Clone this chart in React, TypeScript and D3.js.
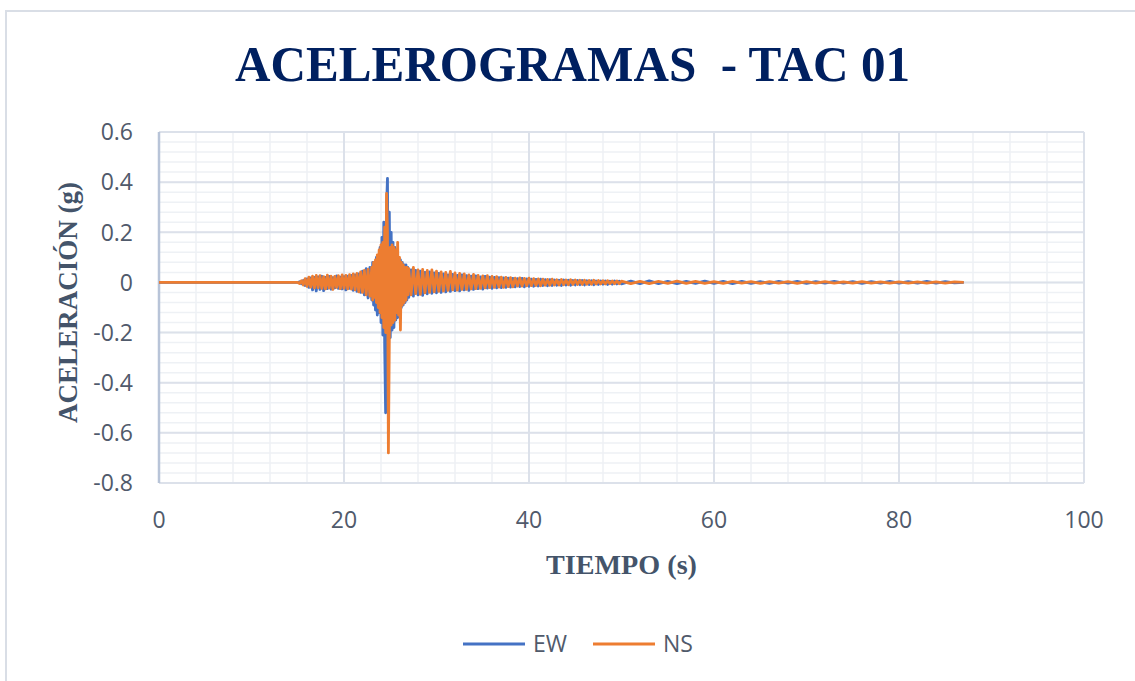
import React from "react";
import * as d3 from "d3";

// ---------- data ----------
const TITLE = "ACELEROGRAMAS  - TAC 01";
const X_TITLE = "TIEMPO (s)";
const Y_TITLE = "ACELERACIÓN (g)";
const SERIES_NAMES = ["EW", "NS"];
const X_TICKS = [0, 20, 40, 60, 80, 100];
const Y_TICKS = [0.6, 0.4, 0.2, 0, -0.2, -0.4, -0.6, -0.8];
const Y_TICK_LABELS = ["0.6", "0.4", "0.2", "0", "-0.2", "-0.4", "-0.6", "-0.8"];

// quiet pre-event record
const PRE_TIMES = [0];
const PRE_VALUES = [0];

// segment A: 15.0 s .. 22.8 s every 0.2 s
const A_START = 15.0;
const A_STEP = 0.2;
const EW_A = [
  0.0, 0.003, -0.005, 0.008, -0.012, 0.014, -0.02, 0.018, -0.03, 0.02,
  -0.034, 0.022, -0.028, 0.025, -0.033, 0.02, -0.025, 0.024, -0.027, 0.019,
  -0.022, 0.026, -0.024, 0.021, -0.026, 0.023, -0.03, 0.025, -0.024, 0.028,
  -0.032, 0.03, -0.036, 0.034, -0.04, 0.045, -0.05, 0.055, -0.062, 0.06,
];
const NS_A = [
  0.0, -0.004, 0.007, -0.01, 0.015, -0.016, 0.021, -0.019, 0.025, -0.022,
  0.028, -0.021, 0.027, -0.024, 0.023, -0.026, 0.029, -0.022, 0.025, -0.028,
  0.024, -0.02, 0.027, -0.025, 0.03, -0.023, 0.028, -0.026, 0.031, -0.027,
  0.034, -0.03, 0.036, -0.038, 0.042, -0.04, 0.048, -0.05, 0.052, -0.055,
];

// segment B: 23.0 s .. 26.9 s every 0.1 s (strong motion)
const B_START = 23.0;
const B_STEP = 0.1;
const EW_B = [
  -0.07, 0.08, -0.09, 0.07, -0.11, 0.1, -0.13, 0.09, -0.12, 0.14,
  -0.16, 0.18, -0.21, 0.24, -0.26, -0.52, 0.3, 0.415, -0.3, 0.28,
  -0.22, 0.2, -0.19, 0.16, -0.18, 0.14, -0.15, 0.12, -0.14, 0.1,
  -0.11, 0.09, -0.1, 0.08, -0.09, 0.07, -0.08, 0.07, -0.07, 0.06,
];
const NS_B = [
  0.06, -0.07, 0.08, -0.06, 0.09, -0.08, 0.11, -0.1, 0.13, -0.12,
  0.15, -0.14, 0.16, -0.18, 0.22, -0.2, 0.355, 0.2, -0.68, -0.22,
  0.14, -0.17, 0.15, -0.16, 0.14, -0.15, 0.13, -0.12, 0.16, -0.13,
  0.1, -0.19, 0.08, -0.09, 0.07, -0.08, 0.06, -0.07, 0.06, -0.05,
];

// segment C: 27.0 s .. 49.75 s every 0.25 s (coda)
const C_START = 27.0;
const C_STEP = 0.25;
const EW_C = [
  -0.06, 0.05, -0.055, 0.048, -0.05, 0.045, -0.052, 0.04, -0.046, 0.042, -0.044, 0.038,
  -0.042, 0.036, -0.04, 0.034, -0.038, 0.03, -0.036, 0.032, -0.033, 0.028, -0.034, 0.03,
  -0.03, 0.027, -0.032, 0.025, -0.028, 0.026, -0.025, 0.022, -0.027, 0.024, -0.023, 0.021,
  -0.024, 0.02, -0.022, 0.019, -0.021, 0.018, -0.02, 0.017, -0.019, 0.016, -0.018, 0.015,
  -0.017, 0.016, -0.018, 0.014, -0.016, 0.013, -0.015, 0.012, -0.014, 0.013, -0.012, 0.011,
  -0.013, 0.011, -0.012, 0.01, -0.011, 0.009, -0.012, 0.01, -0.01, 0.009, -0.011, 0.008,
  -0.01, 0.008, -0.009, 0.008, -0.01, 0.007, -0.008, 0.007, -0.009, 0.006, -0.008, 0.006,
  -0.007, 0.006, -0.008, 0.005, -0.007, 0.006, -0.006, 0.005,
];
const NS_C = [
  0.055, -0.05, 0.06, -0.045, 0.05, -0.048, 0.052, -0.042, 0.048, -0.04, 0.05, -0.038,
  0.045, -0.036, 0.042, -0.035, 0.04, -0.032, 0.044, -0.03, 0.038, -0.031, 0.036, -0.028,
  0.034, -0.028, 0.03, -0.026, 0.032, -0.025, 0.028, -0.024, 0.026, -0.022, 0.027, -0.021,
  0.024, -0.02, 0.023, -0.019, 0.021, -0.02, 0.02, -0.017, 0.019, -0.018, 0.017, -0.015,
  0.018, -0.015, 0.016, -0.014, 0.017, -0.013, 0.015, -0.012, 0.014, -0.013, 0.013, -0.011,
  0.012, -0.011, 0.013, -0.01, 0.011, -0.01, 0.012, -0.009, 0.01, -0.009, 0.011, -0.008,
  0.01, -0.008, 0.009, -0.008, 0.009, -0.007, 0.008, -0.007, 0.009, -0.006, 0.008, -0.006,
  0.007, -0.006, 0.007, -0.005, 0.006, -0.005, 0.006, -0.005,
];

// segment D: 50 s .. 87 s every 1 s (tail)
const D_START = 50.0;
const D_STEP = 1.0;
const EW_D = [
  -0.006, 0.005, -0.005, 0.006, -0.005, 0.004, -0.005, 0.004, -0.004, 0.005,
  -0.004, 0.004, -0.005, 0.004, -0.004, 0.003, -0.004, 0.004, -0.003, 0.004,
  -0.004, 0.003, -0.003, 0.004, -0.003, 0.003, -0.004, 0.003, -0.003, 0.004,
  -0.003, 0.003, -0.003, 0.004, -0.003, 0.003, -0.002, 0.0,
];
const NS_D = [
  0.005, -0.005, 0.004, -0.005, 0.004, -0.004, 0.005, -0.004, 0.004, -0.004,
  0.003, -0.004, 0.004, -0.003, 0.003, -0.004, 0.003, -0.003, 0.003, -0.004,
  0.003, -0.003, 0.003, -0.003, 0.002, -0.003, 0.003, -0.003, 0.002, -0.003,
  0.002, -0.003, 0.002, -0.003, 0.002, -0.003, 0.002, 0.0,
];

// ---------- layout ----------
const W = 1135;
const H = 681;
const M = { left: 159, right: 1084, top: 132, bottom: 483 };
const COLORS: Record<string, string> = { EW: "#4472C4", NS: "#ED7D31" };
const TICK_COLOR = "#505A6B";
const AXIS_TITLE_COLOR = "#44546A";
const TITLE_COLOR = "#002060";
const SANS = "'Open Sans', 'Liberation Sans', sans-serif";
const SERIF = "'Liberation Serif', 'DejaVu Serif', serif";

type Pt = [number, number];

function buildSeries(segs: { start: number; step: number; vals: number[] }[], pre: Pt[]): Pt[] {
  const out: Pt[] = [...pre];
  segs.forEach((s) => {
    s.vals.forEach((v, i) => out.push([s.start + i * s.step, v]));
  });
  return out;
}

const PRE: Pt[] = PRE_TIMES.map((t, i) => [t, PRE_VALUES[i]]);
const EW: Pt[] = buildSeries(
  [
    { start: A_START, step: A_STEP, vals: EW_A },
    { start: B_START, step: B_STEP, vals: EW_B },
    { start: C_START, step: C_STEP, vals: EW_C },
    { start: D_START, step: D_STEP, vals: EW_D },
  ],
  PRE
);
const NS: Pt[] = buildSeries(
  [
    { start: A_START, step: A_STEP, vals: NS_A },
    { start: B_START, step: B_STEP, vals: NS_B },
    { start: C_START, step: C_STEP, vals: NS_C },
    { start: D_START, step: D_STEP, vals: NS_D },
  ],
  PRE
);

export default function App() {
  const x = d3.scaleLinear().domain([0, 100]).range([M.left, M.right]);
  const y = d3.scaleLinear().domain([-0.8, 0.6]).range([M.bottom, M.top]);
  const line = d3
    .line<Pt>()
    .x((d) => x(d[0]))
    .y((d) => y(d[1]));

  const xMinor = d3.range(0, 100.001, 4);
  const yMinor = d3.range(-0.8, 0.6001, 0.04);

  return (
    <svg
      width={W}
      height={H}
      style={{ position: "absolute", left: 0, top: 0, background: "#fff" }}
    >
      <rect x={0} y={0} width={W} height={H} fill="#fff" />
      <rect x={6} y={11} width={W + 20} height={H + 20} fill="none" stroke="#D9DEE6" strokeWidth={2} />

      <text
        x={(235 + 910) / 2}
        y={81}
        textAnchor="middle"
        fontFamily={SERIF}
        fontWeight="bold"
        fontSize={51}
        fill={TITLE_COLOR}
        textLength={675}
        lengthAdjust="spacingAndGlyphs"
        style={{ whiteSpace: "pre" }}
      >
        {TITLE}
      </text>

      {/* minor grid */}
      {xMinor.map((v, i) => (
        <line key={"xm" + i} x1={x(v)} x2={x(v)} y1={M.top} y2={M.bottom} stroke="#EEF1F5" strokeWidth={1.5} />
      ))}
      {yMinor.map((v, i) => (
        <line key={"ym" + i} x1={M.left} x2={M.right} y1={y(v)} y2={y(v)} stroke="#EEF1F5" strokeWidth={1.5} />
      ))}
      {/* major grid */}
      {X_TICKS.map((v) => (
        <line key={"xM" + v} x1={x(v)} x2={x(v)} y1={M.top} y2={M.bottom} stroke="#DCE1EA" strokeWidth={2} />
      ))}
      {Y_TICKS.map((v) => (
        <line key={"yM" + v} x1={M.left} x2={M.right} y1={y(v)} y2={y(v)} stroke="#DCE1EA" strokeWidth={2} />
      ))}
      {/* left axis */}
      <line x1={M.left} x2={M.left} y1={M.top} y2={M.bottom} stroke="#B8C4D8" strokeWidth={2.5} />

      {/* tick labels */}
      {Y_TICKS.map((v, i) => (
        <text
          key={"yl" + v}
          x={133}
          y={y(v)}
          dy="0.36em"
          textAnchor="end"
          fontFamily={SANS}
          fontSize={23}
          fill={TICK_COLOR}
        >
          {Y_TICK_LABELS[i]}
        </text>
      ))}
      {X_TICKS.map((v) => (
        <text
          key={"xl" + v}
          x={x(v)}
          y={528}
          textAnchor="middle"
          fontFamily={SANS}
          fontSize={23}
          fill={TICK_COLOR}
        >
          {v}
        </text>
      ))}

      {/* series */}
      <path d={line(EW) || ""} fill="none" stroke={COLORS.EW} strokeWidth={2.8} strokeLinejoin="round" />
      <path d={line(NS) || ""} fill="none" stroke={COLORS.NS} strokeWidth={2.8} strokeLinejoin="round" />

      {/* axis titles */}
      <text
        x={(546 + 697) / 2}
        y={574}
        textAnchor="middle"
        fontFamily={SERIF}
        fontWeight="bold"
        fontSize={28}
        fill={AXIS_TITLE_COLOR}
        textLength={151}
        lengthAdjust="spacingAndGlyphs"
      >
        {X_TITLE}
      </text>
      <text
        transform={`translate(77, ${(182 + 423) / 2}) rotate(-90)`}
        textAnchor="middle"
        fontFamily={SERIF}
        fontWeight="bold"
        fontSize={28}
        fill={AXIS_TITLE_COLOR}
        textLength={241}
        lengthAdjust="spacingAndGlyphs"
      >
        {Y_TITLE}
      </text>

      {/* legend */}
      {SERIES_NAMES.map((name, i) => {
        const lx = i === 0 ? 463 : 593;
        return (
          <g key={name}>
            <line x1={lx} x2={lx + 62} y1={644} y2={644} stroke={COLORS[name]} strokeWidth={2.8} />
            <text x={lx + 70} y={644} dy="0.36em" fontFamily={SANS} fontSize={23} fill={TICK_COLOR}>
              {name}
            </text>
          </g>
        );
      })}
    </svg>
  );
}
